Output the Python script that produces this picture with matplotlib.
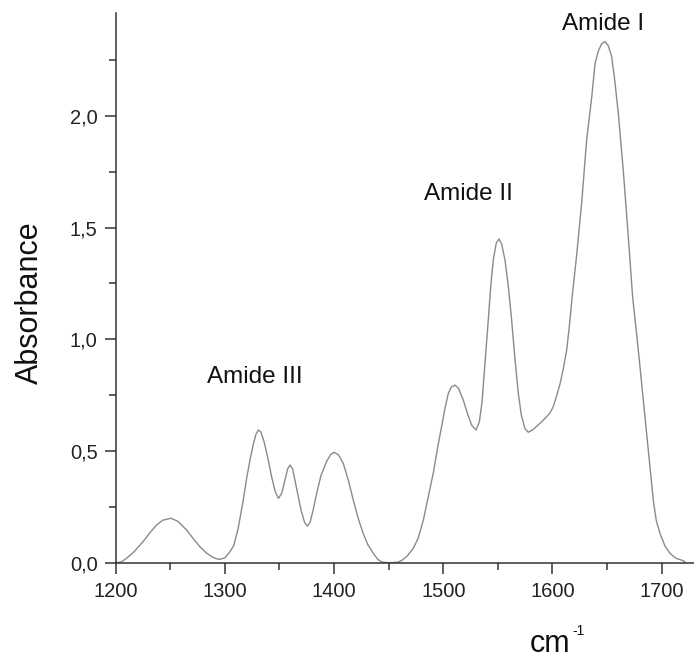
import matplotlib.pyplot as plt
from matplotlib.ticker import MultipleLocator

plt.rcParams['font.family'] = ['Liberation Sans', 'DejaVu Sans']

# spectrum (wavenumber in cm-1, absorbance)
wavenumber = [1200, 1205, 1210, 1217, 1225, 1232, 1237.5, 1243, 1250.5, 1257,
              1265, 1271, 1277, 1283, 1288, 1292, 1295.5, 1300, 1304, 1308,
              1312, 1316.8, 1320, 1323, 1326, 1328.5, 1330.6, 1333, 1336, 1339.7,
              1343, 1346, 1349, 1352, 1355, 1357.5, 1359.6, 1362, 1364.5, 1367.2,
              1370, 1373, 1375.5, 1378, 1381, 1384, 1388, 1393, 1397, 1400.2,
              1404, 1408.4, 1413, 1417.6, 1422, 1426.7, 1431, 1435.9, 1440, 1444,
              1450, 1458, 1462, 1467, 1472.5, 1477, 1481.7, 1486, 1490.8, 1495,
              1498.5, 1501.5, 1504.6, 1507.5, 1510.7, 1514, 1518.3, 1522, 1526, 1530,
              1533, 1535.5, 1538, 1541.2, 1543.5, 1545.8, 1548.5, 1551, 1553.5, 1556.5,
              1559.5, 1562.6, 1565.5, 1568.7, 1571.5, 1574.8, 1577.8, 1582, 1588.6, 1594,
              1597.7, 1600.7, 1604, 1606.9, 1610, 1613, 1615.5, 1618, 1622, 1626.7,
              1631.3, 1636, 1639, 1642, 1645, 1648, 1651, 1654.2, 1657, 1660.3,
              1664.8, 1669.4, 1673.4, 1678.6, 1683.2, 1687.7, 1692.3, 1695, 1698.4, 1703,
              1707.6, 1713, 1719.8, 1722]
absorbance = [0.0, 0.003, 0.02, 0.05, 0.094, 0.138, 0.169, 0.19, 0.199, 0.185,
              0.146, 0.108, 0.072, 0.044, 0.027, 0.018, 0.015, 0.022, 0.045, 0.075,
              0.15, 0.28, 0.38, 0.46, 0.53, 0.575, 0.594, 0.585, 0.54, 0.46,
              0.38, 0.32, 0.288, 0.31, 0.37, 0.42, 0.437, 0.42, 0.36, 0.295,
              0.23, 0.18, 0.164, 0.18, 0.24, 0.31, 0.39, 0.452, 0.485, 0.494,
              0.483, 0.445, 0.37, 0.28, 0.2, 0.13, 0.08, 0.042, 0.015, 0.003,
              0.0, 0.002, 0.01, 0.03, 0.064, 0.11, 0.19, 0.29, 0.40, 0.52,
              0.61, 0.69, 0.758, 0.787, 0.795, 0.78, 0.728, 0.67, 0.615, 0.594,
              0.63, 0.72, 0.88, 1.086, 1.24, 1.355, 1.43, 1.449, 1.425, 1.355,
              1.24, 1.086, 0.92, 0.758, 0.66, 0.60, 0.584, 0.595, 0.624, 0.65,
              0.67, 0.698, 0.75, 0.80, 0.87, 0.952, 1.06, 1.19, 1.37, 1.609,
              1.892, 2.086, 2.235, 2.29, 2.322, 2.332, 2.315, 2.265, 2.16, 2.01,
              1.758, 1.46, 1.19, 0.952, 0.728, 0.504, 0.281, 0.19, 0.132, 0.075,
              0.042, 0.02, 0.009, 0.0]

xticks = [1200, 1300, 1400, 1500, 1600, 1700]
yticks = [0.0, 0.5, 1.0, 1.5, 2.0]
ytick_labels = ['0,0', '0,5', '1,0', '1,5', '2,0']

band_names = ['Amide III', 'Amide II', 'Amide I']
band_x = [1327.6, 1522.6, 1646]
band_y = [0.83, 1.65, 2.41]

fig = plt.figure(figsize=(6.94, 6.61), dpi=100)
ax = fig.add_axes([0.1667, 0.1487, 0.8333, 0.8316])

ax.plot(wavenumber, absorbance, color='#8a8a8a', lw=1.0)

ax.set_xlim(1200, 1729.6)
ax.set_ylim(0, 2.46)

ax.spines['top'].set_visible(False)
ax.spines['right'].set_visible(False)
for s in ['left', 'bottom']:
    ax.spines[s].set_color('#333333')
    ax.spines[s].set_linewidth(1.1)

ax.set_xticks(xticks)
ax.set_xticklabels([str(t) for t in xticks])
ax.set_yticks(yticks)
ax.set_yticklabels(ytick_labels)
ax.xaxis.set_minor_locator(MultipleLocator(50))
ax.yaxis.set_minor_locator(MultipleLocator(0.25))
ax.tick_params(which='major', direction='out', length=8, width=1.1,
               color='#333333', labelsize=14.5, labelcolor='#222222')
ax.tick_params(which='minor', direction='out', length=5, width=1.1, color='#333333')
ax.tick_params(axis='y', pad=5)
ax.tick_params(axis='x', pad=6)

for name, bx, by in zip(band_names, band_x, band_y):
    ax.text(bx, by, name, fontsize=17.5, ha='center', va='center', color='#111111')

fig.text(0.043, 0.5416, 'Absorbance', rotation=90, fontsize=22,
         ha='center', va='center', color='#111111')
# x unit sits right at the lower edge, as in the original
fig.text(530 / 694, 2 / 661, 'cm', fontsize=22, ha='left',
         va='bottom', color='#111111')
fig.text(572 / 694, (661 - 635) / 661, '-1', fontsize=10, ha='left',
         va='baseline', color='#111111')

fig.savefig('out.png', dpi=100)
